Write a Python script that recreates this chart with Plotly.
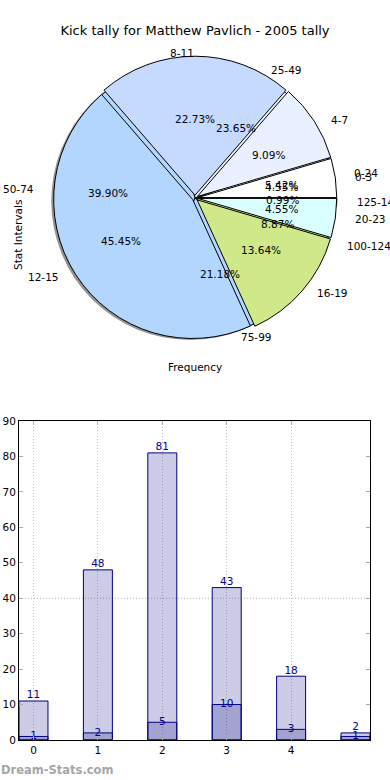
import math
import plotly.graph_objects as go

# ---------------- data ----------------
TITLE = "Kick tally for Matthew Pavlich - 2005 tally"
LABELS_A = ["0-24", "25-49", "50-74", "75-99", "100-124", "125-149"]
VALUES_A = [11, 48, 81, 43, 18, 2]
LABELS_B = ["0-3", "4-7", "8-11", "12-15", "16-19", "20-23"]
VALUES_B = [1, 2, 5, 10, 3, 1]
BAR_X = [0, 1, 2, 3, 4, 5]
X_TICKS = [0, 1, 2, 3, 4]
Y_TICKS = [0, 10, 20, 30, 40, 50, 60, 70, 80, 90]
GRID_Y = [40]

COLORS_A = ["#ffffff", "#e9f0ff", "#b3d6ff", "#b3d6ff", "#cfe98a", "#ffffff"]
COLORS_B = ["#ffffff", "#e9f0ff", "#c6daff", "#b3d6ff", "#cfe98a", "#d9ffff"]

W, H = 390, 780
FONT = "DejaVu Sans"
FS = 10.5
NAVY = "#000080"

# ---------------- pie geometry (layout, pixels -> paper) ----------------
cx, cy = 195, 198          # pie centre in px
rx, ry = 146, 132          # text placement radii (px)
PULL = 0.02
r_pie = 139
r0 = r_pie * (1 + PULL)
PIE_DOM = dict(x=[(cx - r0) / W, (cx + r0) / W], y=[1 - (cy + r0) / H, 1 - (cy - r0) / H])
SH_DOM = dict(x=[(cx - r0 - 2) / W, (cx + r0 - 2) / W], y=[1 - (cy + r0 + 3) / H, 1 - (cy - r0 + 3) / H])
pull_a = [0, 0, 0, 0, 0, PULL]
pull_b = [PULL] * len(VALUES_B)


def start_rotation(vals):
    # plotly places the first counter-clockwise slice just before `rotation`;
    # shift so the first slice starts at 3 o'clock (matplotlib's startangle=0)
    return 90 - 360.0 * vals[0] / sum(vals)


common = dict(sort=False, direction="counterclockwise", hoverinfo="skip",
              showlegend=False, textinfo="none")

fig = go.Figure()

# shadow
fig.add_trace(go.Pie(values=[sum(VALUES_A)], labels=["shadow"], domain=SH_DOM, rotation=90,
                     marker=dict(colors=["rgba(90,90,90,0.65)"], line=dict(width=0)),
                     pull=[PULL], **common))
# pie A (underneath)
fig.add_trace(go.Pie(values=VALUES_A, labels=LABELS_A, domain=PIE_DOM, pull=pull_a,
                     rotation=start_rotation(VALUES_A),
                     marker=dict(colors=COLORS_A, line=dict(color="black", width=1)), **common))
# pie B (on top, slightly exploded)
fig.add_trace(go.Pie(values=VALUES_B, labels=LABELS_B, domain=PIE_DOM, pull=pull_b,
                     rotation=start_rotation(VALUES_B),
                     marker=dict(colors=COLORS_B, line=dict(color="black", width=1)), **common))

# hidden helper axes over the pie area, used to place pie texts from the data
fig.add_trace(go.Scatter(x=[0], y=[0], mode="markers", marker=dict(opacity=0),
                         xaxis="x2", yaxis="y2", showlegend=False, hoverinfo="skip"))

annotations = []
for labs, vals in [(LABELS_A, VALUES_A), (LABELS_B, VALUES_B)]:
    tot = float(sum(vals))
    cum = 0.0
    for lab, v in zip(labs, vals):
        f0 = cum / tot
        cum += v
        f1 = cum / tot
        th = math.pi * (f0 + f1)
        c, s = math.cos(th), math.sin(th)
        annotations.append(dict(text="%.2f%%" % (100.0 * v / tot), x=0.6 * c, y=0.6 * s,
                                xref="x2", yref="y2", showarrow=False, xanchor="center",
                                yanchor="middle", borderpad=0,
                                font=dict(family=FONT, size=FS, color="black")))
        annotations.append(dict(text=lab, x=1.1 * c, y=1.1 * s, xref="x2", yref="y2",
                                showarrow=False, xanchor="left" if c > 1e-9 else "right",
                                yanchor="middle", borderpad=0,
                                font=dict(family=FONT, size=FS, color="black")))

# ---------------- bars ----------------
fig.add_trace(go.Bar(x=BAR_X, y=VALUES_A, width=0.45, xaxis="x", yaxis="y",
                     marker=dict(color="rgba(0,0,128,0.2)", line=dict(color=NAVY, width=1)),
                     showlegend=False, hoverinfo="skip"))
fig.add_trace(go.Bar(x=BAR_X, y=VALUES_B, width=0.45, xaxis="x", yaxis="y",
                     marker=dict(color="rgba(0,0,128,0.2)", line=dict(color=NAVY, width=1)),
                     showlegend=False, hoverinfo="skip"))
fig.add_trace(go.Scatter(x=BAR_X, y=VALUES_A, mode="text", text=[str(v) for v in VALUES_A],
                         textposition="top center", textfont=dict(family=FONT, size=FS, color=NAVY),
                         showlegend=False, hoverinfo="skip", cliponaxis=False))
fig.add_trace(go.Scatter(x=BAR_X, y=VALUES_B, mode="text", text=[str(v) for v in VALUES_B],
                         textposition="middle center", textfont=dict(family=FONT, size=FS, color=NAVY),
                         showlegend=False, hoverinfo="skip", cliponaxis=False))

for gy in GRID_Y:
    fig.add_hline(y=gy, line=dict(color="#b0b0b0", width=1, dash="1px,2px"), layer="below")

annotations += [
    dict(text="Stat Intervals", x=10 / W, y=1 - 198 / H, xref="paper", yref="paper",
         textangle=-90, showarrow=False, font=dict(family=FONT, size=FS)),
    dict(text="Frequency", x=195 / W, y=1 - 367 / H, xref="paper", yref="paper",
         showarrow=False, font=dict(family=FONT, size=FS)),
    dict(text="<b>Dream-Stats.com</b>", x=0, y=1 - 770 / H, xref="paper", yref="paper",
         xanchor="left", yanchor="middle", showarrow=False, borderpad=0,
         font=dict(family=FONT, size=11.5, color="#a6a6a6")),
]

fig.update_layout(
    width=W, height=H, margin=dict(l=0, r=0, t=0, b=0, pad=0, autoexpand=False),
    paper_bgcolor="white", plot_bgcolor="rgba(0,0,0,0)",
    barmode="overlay", bargap=0,
    font=dict(family=FONT, size=FS, color="black"),
    title=dict(text=TITLE, x=0.5, xanchor="center", y=1 - 30 / H, yanchor="middle",
               font=dict(family=FONT, size=13, color="black")),
    xaxis=dict(domain=[19 / W, 370 / W], range=[-0.225, 5.225], tickvals=X_TICKS,
               showgrid=True, gridcolor="#c0c0c0", griddash="1px,2px", gridwidth=1,
               showline=True, linecolor="black", linewidth=1, mirror="ticks",
               ticks="inside", ticklen=4, tickcolor="#aaaaaa", zeroline=False, automargin=False,
               tickfont=dict(family=FONT, size=FS, color="black"), fixedrange=True),
    yaxis=dict(domain=[1 - 740 / H, 1 - 421 / H], range=[0, 90], tickvals=Y_TICKS,
               showgrid=False, showline=True, linecolor="black", linewidth=1, mirror="ticks",
               ticks="inside", ticklen=4, tickcolor="#aaaaaa", zeroline=False, automargin=False,
               tickfont=dict(family=FONT, size=FS, color="black"), fixedrange=True),
    xaxis2=dict(domain=[0, 1], range=[-cx / rx, (W - cx) / rx], visible=False,
                anchor="y2", fixedrange=True, automargin=False),
    yaxis2=dict(domain=[0.5, 1], range=[-(H / 2 - cy) / ry, cy / ry], visible=False,
                anchor="x2", fixedrange=True, automargin=False),
    annotations=annotations,
)

fig.write_html("out.html", config={"displayModeBar": False, "staticPlot": True},
               post_script="document.body.style.margin='0';document.body.style.overflow='hidden';")
